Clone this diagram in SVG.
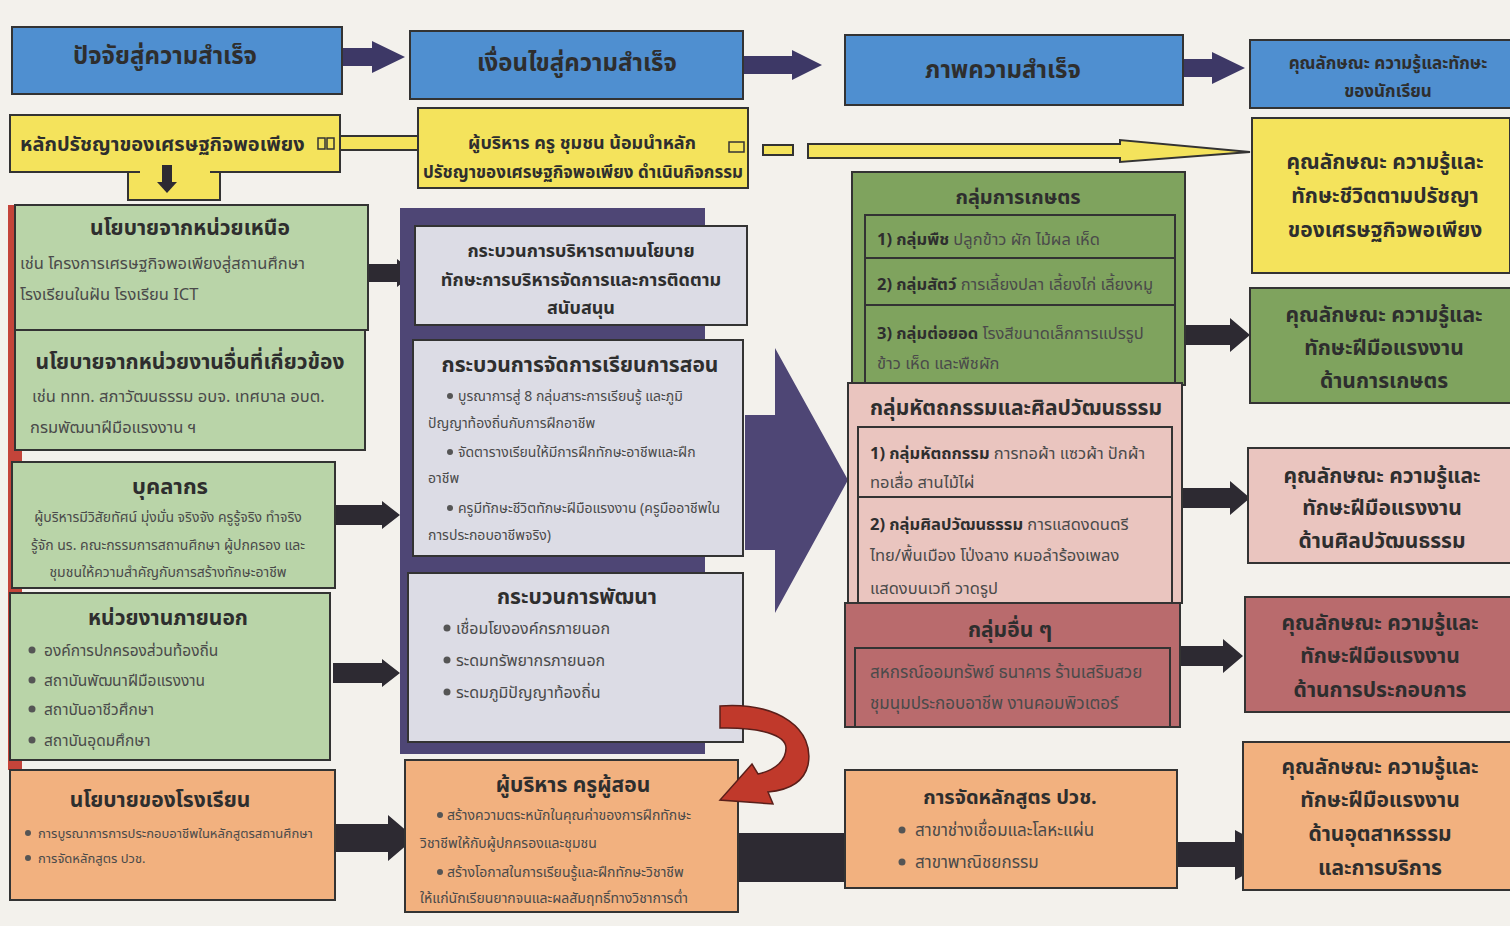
<svg xmlns="http://www.w3.org/2000/svg" width="1510" height="926" viewBox="0 0 1510 926">
<style>
text{font-family:"Noto Sans Thai","Noto Sans","DejaVu Sans",sans-serif;fill:#2e2e2e}
.h{font-weight:bold}
.m{text-anchor:middle}
.s{fill:#4a4a4a}
.bx{stroke:#333;stroke-width:2}
.blue{fill:#4f8fd0}
.yel{fill:#f4e35c}
.lg{fill:#b9d4a8}
.gr{fill:#7fa35e}
.pk{fill:#eac5bf}
.rs{fill:#b96b6d}
.or{fill:#f2b17f}
.gy{fill:#dcdce5}
.navy{fill:#3d3866}
.blk{fill:#2d2a32}
.dot{fill:#555}
</style>
<rect width="1510" height="926" fill="#f3f1ec"/>
<g id="connectors">
<polygon class="navy" points="293,48 372,48 372,41 405,57 372,73 372,66 293,66"/>
<polygon class="navy" points="712,56 792,56 792,50 822,65 792,80 792,74 712,74"/>
<polygon class="navy" points="1122,59 1212,59 1212,52 1245,68 1212,84 1212,77 1122,77"/>
<polygon class="yel bx" points="340,136 420,136 420,131 445,143 420,155 420,150 340,150"/>
<polygon class="yel bx" stroke-width="1.5" points="808,144 1120,144 1120,140 1250,152 1120,162 1120,158 808,158"/>
<rect class="yel bx" x="763" y="145" width="30" height="10"/>
<polygon class="blk" points="345,264 397,264 397,259 415,273 397,287 397,282 345,282"/>
<polygon class="blk" points="333,505 382,505 382,501 400,515 382,529 382,525 333,525"/>
<polygon class="blk" points="333,663 382,663 382,659 400,673 382,687 382,683 333,683"/>
<polygon class="blk" points="335,824 388,824 388,815 415,838 388,861 388,852 335,852"/>
<polygon class="blk" points="700,833 845,833 875,857 845,882 700,882 715,857"/>
<polygon class="blk" points="1120,842 1235,842 1235,830 1282,855 1235,880 1235,867 1120,867 1132,855"/>
<polygon class="blk" points="1185,325 1230,325 1230,318 1250,335 1230,352 1230,345 1185,345"/>
<polygon class="blk" points="1182,488 1230,488 1230,481 1250,498 1230,515 1230,508 1182,508"/>
<polygon class="blk" points="1175,646 1223,646 1223,639 1243,656 1223,673 1223,666 1175,666"/>
</g>
<g id="n-top1"><rect class="blue bx" x="12" y="27" width="330" height="67"/><text class="h m" x="165" y="64" font-size="24">ปัจจัยสู่ความสำเร็จ</text></g>
<g id="n-top2"><rect class="blue bx" x="410" y="31" width="333" height="68"/><text class="h m" x="577" y="71" font-size="24">เงื่อนไขสู่ความสำเร็จ</text></g>
<g id="n-top3"><rect class="blue bx" x="845" y="35" width="338" height="70"/><text class="h m" x="1003" y="78" font-size="24">ภาพความสำเร็จ</text></g>
<g id="n-top4"><rect class="blue bx" x="1250" y="40" width="262" height="68"/><text class="h m" x="1388" y="69" font-size="17">คุณลักษณะ ความรู้และทักษะ</text><text class="h m" x="1388" y="97" font-size="17">ของนักเรียน</text></g>
<g id="n-phil"><rect class="yel bx" x="128" y="160" width="92" height="40"/><rect class="yel bx" x="10" y="115" width="330" height="57"/><text class="h" x="20" y="151" font-size="20">หลักปรัชญาของเศรษฐกิจพอเพียง</text><rect x="318" y="138" width="7" height="11" fill="#f4e35c" stroke="#333" stroke-width="1.5"/><rect x="327" y="138" width="7" height="11" fill="#f4e35c" stroke="#333" stroke-width="1.5"/><rect x="140" y="168" width="70" height="6" class="yel"/><rect x="162" y="165" width="10" height="20" fill="#2d2a32"/><polygon points="157,182 177,182 167,193" fill="#2d2a32"/></g>
<g id="n-cond"><rect class="yel bx" x="418" y="108" width="330" height="80"/><text class="h m" x="582" y="149" font-size="18">ผู้บริหาร ครู ชุมชน น้อมนำหลัก</text><text class="h m" x="583" y="178" font-size="17">ปรัชญาของเศรษฐกิจพอเพียง ดำเนินกิจกรรม</text><rect x="729" y="142" width="15" height="10" fill="#f4e35c" stroke="#333" stroke-width="1.5"/></g>
<g id="n-res-phil"><rect class="yel bx" x="1252" y="118" width="258" height="155"/><text class="h m" x="1385" y="169" font-size="21">คุณลักษณะ ความรู้และ</text><text class="h m" x="1385" y="203" font-size="21">ทักษะชีวิตตามปรัชญา</text><text class="h m" x="1385" y="237" font-size="21">ของเศรษฐกิจพอเพียง</text></g>
<rect x="8" y="205" width="14" height="565" fill="#c4443a"/>
<g id="n-pol1"><rect class="lg bx" x="15" y="205" width="353" height="125"/><text class="h m" x="190" y="235" font-size="21">นโยบายจากหน่วยเหนือ</text><text class="s" x="20" y="269" font-size="16.5">เช่น โครงการเศรษฐกิจพอเพียงสู่สถานศึกษา</text><text class="s" x="20" y="300" font-size="16.5">โรงเรียนในฝัน โรงเรียน ICT</text></g>
<g id="n-pol2"><rect class="lg bx" x="15" y="330" width="350" height="120"/><text class="h m" x="190" y="369" font-size="21">นโยบายจากหน่วยงานอื่นที่เกี่ยวข้อง</text><text class="s" x="32" y="402" font-size="16.5">เช่น ททท. สภาวัฒนธรรม อบจ. เทศบาล อบต.</text><text class="s" x="30" y="433" font-size="16.5">กรมพัฒนาฝีมือแรงงาน ฯ</text></g>
<g id="n-staff"><rect class="lg bx" x="12" y="462" width="323" height="126"/><text class="h m" x="170" y="494" font-size="22">บุคลากร</text><text class="s m" x="168" y="522" font-size="14">ผู้บริหารมีวิสัยทัศน์ มุ่งมั่น จริงจัง ครูรู้จริง ทำจริง</text><text class="s m" x="168" y="550" font-size="14">รู้จัก นร. คณะกรรมการสถานศึกษา ผู้ปกครอง และ</text><text class="s m" x="168" y="577" font-size="14">ชุมชนให้ความสำคัญกับการสร้างทักษะอาชีพ</text></g>
<g id="n-ext"><rect class="lg bx" x="10" y="593" width="320" height="167"/><text class="h m" x="168" y="625" font-size="21">หน่วยงานภายนอก</text><circle class="dot" cx="32" cy="650" r="3.5"/><text class="s" x="44" y="656" font-size="15.5">องค์การปกครองส่วนท้องถิ่น</text><circle class="dot" cx="32" cy="680" r="3.5"/><text class="s" x="44" y="686" font-size="15.5">สถาบันพัฒนาฝีมือแรงงาน</text><circle class="dot" cx="32" cy="709" r="3.5"/><text class="s" x="44" y="715" font-size="15.5">สถาบันอาชีวศึกษา</text><circle class="dot" cx="32" cy="740" r="3.5"/><text class="s" x="44" y="746" font-size="15.5">สถาบันอุดมศึกษา</text></g>
<g id="n-school"><rect class="or bx" x="10" y="770" width="325" height="130"/><text class="h m" x="160" y="807" font-size="21">นโยบายของโรงเรียน</text><circle class="dot" cx="28" cy="833" r="3"/><text class="s" x="38" y="838" font-size="13">การบูรณาการการประกอบอาชีพในหลักสูตรสถานศึกษา</text><circle class="dot" cx="28" cy="858" r="3"/><text class="s" x="38" y="863" font-size="13">การจัดหลักสูตร ปวช.</text></g>
<rect x="400" y="208" width="305" height="546" fill="#4e4675"/>
<polygon points="745,415 775,415 775,348 848,480 775,613 775,550 745,550" fill="#4e4675"/>
<g id="n-admin"><rect class="gy bx" x="415" y="226" width="332" height="99"/><text class="h m" x="581" y="257" font-size="18">กระบวนการบริหารตามนโยบาย</text><text class="h m" x="581" y="286" font-size="18">ทักษะการบริหารจัดการและการติดตาม</text><text class="h m" x="581" y="314" font-size="18">สนับสนุน</text></g>
<g id="n-teach"><rect class="gy bx" x="413" y="340" width="330" height="216"/><text class="h m" x="580" y="372" font-size="21">กระบวนการจัดการเรียนการสอน</text><circle class="dot" cx="450" cy="396" r="3"/><text class="s" x="458" y="401" font-size="14">บูรณาการสู่ 8 กลุ่มสาระการเรียนรู้ และภูมิ</text><text class="s" x="428" y="428" font-size="14">ปัญญาท้องถิ่นกับการฝึกอาชีพ</text><circle class="dot" cx="450" cy="452" r="3"/><text class="s" x="458" y="457" font-size="14">จัดตารางเรียนให้มีการฝึกทักษะอาชีพและฝึก</text><text class="s" x="428" y="483" font-size="14">อาชีพ</text><circle class="dot" cx="450" cy="508" r="3"/><text class="s" x="458" y="513" font-size="14">ครูมีทักษะชีวิตทักษะฝีมือแรงงาน (ครูมืออาชีพใน</text><text class="s" x="428" y="540" font-size="14">การประกอบอาชีพจริง)</text></g>
<g id="n-dev"><rect class="gy bx" x="408" y="573" width="335" height="169"/><text class="h m" x="577" y="604" font-size="21">กระบวนการพัฒนา</text><circle class="dot" cx="447" cy="628" r="3.5"/><text class="s" x="456" y="634" font-size="16">เชื่อมโยงองค์กรภายนอก</text><circle class="dot" cx="447" cy="660" r="3.5"/><text class="s" x="456" y="666" font-size="16">ระดมทรัพยากรภายนอก</text><circle class="dot" cx="447" cy="692" r="3.5"/><text class="s" x="456" y="698" font-size="16">ระดมภูมิปัญญาท้องถิ่น</text></g>
<g id="n-teacher"><rect class="or bx" x="405" y="760" width="333" height="152"/><text class="h m" x="573" y="792" font-size="21">ผู้บริหาร ครูผู้สอน</text><circle class="dot" cx="440" cy="815" r="3"/><text class="s" x="447" y="820" font-size="14">สร้างความตระหนักในคุณค่าของการฝึกทักษะ</text><text class="s" x="420" y="848" font-size="14">วิชาชีพให้กับผู้ปกครองและชุมชน</text><circle class="dot" cx="440" cy="872" r="3"/><text class="s" x="447" y="877" font-size="14">สร้างโอกาสในการเรียนรู้และฝึกทักษะวิชาชีพ</text><text class="s" x="420" y="903" font-size="14">ให้แก่นักเรียนยากจนและผลสัมฤทธิ์ทางวิชาการต่ำ</text></g>
<path d="M720,706 C780,702 815,730 808,765 C804,782 790,790 768,792 L773,804 L720,800 L752,764 L758,774 C776,770 786,760 786,748 C786,735 760,727 720,728 Z" fill="#c0392b" stroke="#5a1f1a" stroke-width="1.5"/>
<g id="n-agri"><rect class="gr bx" x="852" y="172" width="333" height="213"/><text class="h m" x="1018" y="204" font-size="20">กลุ่มการเกษตร</text><rect class="gr bx" x="865" y="215" width="310" height="43"/><text x="877" y="245" font-size="16.5"><tspan class="h">1) กลุ่มพืช</tspan><tspan class="s">  ปลูกข้าว ผัก ไม้ผล เห็ด</tspan></text><rect class="gr bx" x="865" y="258" width="310" height="47"/><text x="877" y="290" font-size="16.5"><tspan class="h">2) กลุ่มสัตว์</tspan><tspan class="s"> การเลี้ยงปลา เลี้ยงไก่ เลี้ยงหมู</tspan></text><rect class="gr bx" x="865" y="305" width="310" height="80"/><text x="877" y="339" font-size="16.5"><tspan class="h">3) กลุ่มต่อยอด</tspan><tspan class="s"> โรงสีขนาดเล็กการแปรรูป</tspan></text><text class="s" x="877" y="369" font-size="16.5">ข้าว  เห็ด และพืชผัก</text></g>
<g id="n-craft"><rect class="pk bx" x="848" y="383" width="334" height="220"/><text class="h" x="870" y="415" font-size="21">กลุ่มหัตถกรรมและศิลปวัฒนธรรม</text><rect class="pk bx" x="858" y="427" width="314" height="70"/><text x="870" y="459" font-size="16.5"><tspan class="h">1) กลุ่มหัตถกรรม</tspan><tspan class="s"> การทอผ้า แซวผ้า ปักผ้า</tspan></text><text class="s" x="870" y="488" font-size="16.5">ทอเสื่อ สานไม้ไผ่</text><rect class="pk bx" x="858" y="497" width="314" height="106"/><text x="870" y="530" font-size="16.5"><tspan class="h">2) กลุ่มศิลปวัฒนธรรม</tspan><tspan class="s"> การแสดงดนตรี</tspan></text><text class="s" x="870" y="561" font-size="16.5">ไทย/พื้นเมือง โป่งลาง หมอลำร้องเพลง</text><text class="s" x="870" y="594" font-size="16.5">แสดงบนเวที วาดรูป</text></g>
<g id="n-other"><rect class="rs bx" x="845" y="603" width="335" height="124"/><text class="h m" x="1010" y="637" font-size="21">กลุ่มอื่น ๆ</text><rect class="rs bx" x="855" y="648" width="315" height="79"/><text class="s" x="870" y="678" font-size="17">สหกรณ์ออมทรัพย์ ธนาคาร ร้านเสริมสวย</text><text class="s" x="870" y="709" font-size="17">ชุมนุมประกอบอาชีพ งานคอมพิวเตอร์</text></g>
<g id="n-voc"><rect class="or bx" x="845" y="770" width="332" height="118"/><text class="h m" x="1010" y="804" font-size="20">การจัดหลักสูตร ปวช.</text><circle class="dot" cx="902" cy="830" r="3.5"/><text class="s" x="915" y="836" font-size="17">สาขาช่างเชื่อมและโลหะแผ่น</text><circle class="dot" cx="902" cy="862" r="3.5"/><text class="s" x="915" y="868" font-size="17">สาขาพาณิชยกรรม</text></g>
<g id="n-res-agri"><rect class="gr bx" x="1250" y="288" width="262" height="115"/><text class="h m" x="1384" y="322" font-size="21">คุณลักษณะ ความรู้และ</text><text class="h m" x="1384" y="355" font-size="21">ทักษะฝีมือแรงงาน</text><text class="h m" x="1384" y="388" font-size="21">ด้านการเกษตร</text></g>
<g id="n-res-craft"><rect class="pk bx" x="1248" y="448" width="264" height="115"/><text class="h m" x="1382" y="483" font-size="21">คุณลักษณะ ความรู้และ</text><text class="h m" x="1382" y="515" font-size="21">ทักษะฝีมือแรงงาน</text><text class="h m" x="1382" y="548" font-size="21">ด้านศิลปวัฒนธรรม</text></g>
<g id="n-res-biz"><rect class="rs bx" x="1245" y="597" width="267" height="115"/><text class="h m" x="1380" y="630" font-size="21">คุณลักษณะ ความรู้และ</text><text class="h m" x="1380" y="663" font-size="21">ทักษะฝีมือแรงงาน</text><text class="h m" x="1380" y="697" font-size="21">ด้านการประกอบการ</text></g>
<g id="n-res-ind"><rect class="or bx" x="1243" y="742" width="269" height="148"/><text class="h m" x="1380" y="774" font-size="21">คุณลักษณะ ความรู้และ</text><text class="h m" x="1380" y="807" font-size="21">ทักษะฝีมือแรงงาน</text><text class="h m" x="1380" y="841" font-size="21">ด้านอุตสาหรรรม</text><text class="h m" x="1380" y="875" font-size="21">และการบริการ</text></g>
</svg>
